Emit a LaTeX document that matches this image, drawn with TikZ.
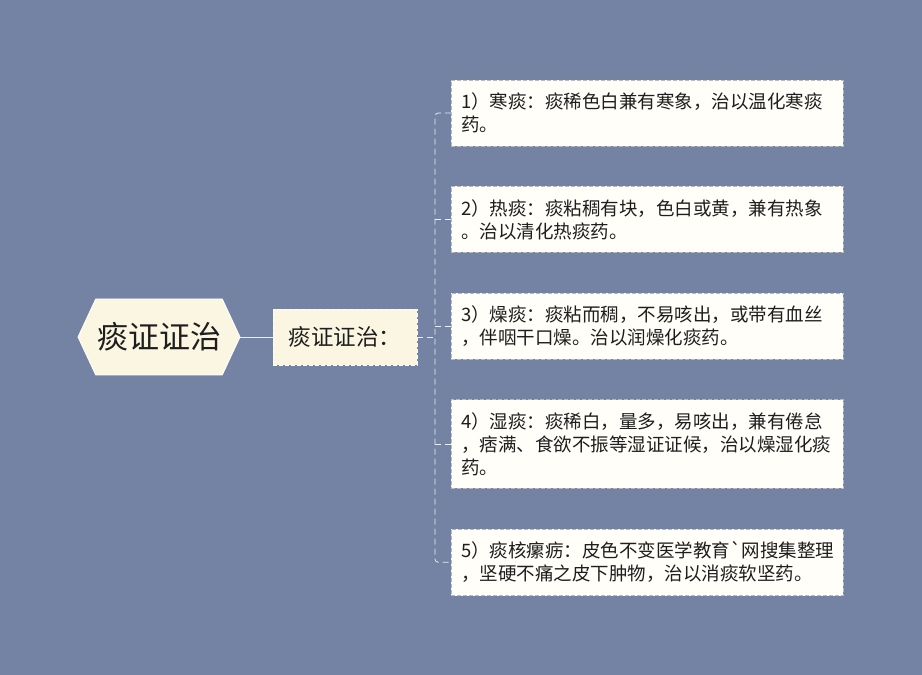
\documentclass[tikz,border=0pt]{standalone}
\usepackage{fontspec}
\usetikzlibrary{positioning,shapes.symbols}
\newfontfamily\cjk{Noto Sans CJK SC}
\definecolor{bgblue}{RGB}{116,131,164}
\definecolor{cream}{RGB}{251,246,226}
\definecolor{paper}{RGB}{255,254,248}
\definecolor{linkgray}{RGB}{236,237,242}
\definecolor{ink}{RGB}{30,30,30}

\begin{document}
\begin{tikzpicture}[x=1pt, y=1pt,
        rootbox/.style={signal, signal to=west and east, signal pointer angle=130, draw=white, line width=0.8pt, fill=cream, minimum width=162pt, minimum height=76pt, inner sep=0pt, text=ink, font=\cjk\fontsize{31}{36}\selectfont},
        subbox/.style={rectangle, draw=white, dash pattern=on 4pt off 2pt, fill=cream, minimum width=144pt, minimum height=56pt, text=ink, font=\cjk\fontsize{22.5}{26}\selectfont},
        leaf/.style={rectangle, draw=gray!55, dash pattern=on 4pt off 2pt, fill=paper, text width=372pt, align=left, inner xsep=10pt, inner ysep=12.8pt, text=ink, font=\cjk\fontsize{18.5}{23}\selectfont},
        link/.style={draw=linkgray, line width=0.8pt, dash pattern=on 6pt off 4pt}]

        \fill[bgblue] (0,0) rectangle (922,675);

        \node[rootbox] (root) at (159,338) {痰证证治};
        \node[subbox] (mid) at (345,338) {痰证证治：};

        \node[leaf, anchor=north west] (c1) at (451,595) {1）寒痰：痰稀色白兼有寒象，治以温化寒痰\\药。};
        \node[leaf, below=40pt of c1] (c2) {2）热痰：痰粘稠有块，色白或黄，兼有热象\\。治以清化热痰药。};
        \node[leaf, below=40pt of c2] (c3) {3）燥痰：痰粘而稠，不易咳出，或带有血丝\\，伴咽干口燥。治以润燥化痰药。};
        \node[leaf, below=40pt of c3] (c4) {4）湿痰：痰稀白，量多，易咳出，兼有倦怠\\，痞满、食欲不振等湿证证候，治以燥湿化痰\\药。};
        \node[leaf, below=40pt of c4] (c5) {5）痰核瘰疬：皮色不变医学教育`网搜集整理\\，坚硬不痛之皮下肿物，治以消痰软坚药。};

        \coordinate (hub) at (435,338);
        \draw[draw=linkgray, line width=0.8pt] (root.east) -- (mid.west);
        \draw[link] (mid.east) -- (hub);
        \draw[link, rounded corners=3pt] (c1.west) -| (hub) |- (c5.west);
        \foreach \k in {2,3,4}
            \draw[link] (hub |- c\k.west) -- (c\k.west);
    \end{tikzpicture}
\end{document}
